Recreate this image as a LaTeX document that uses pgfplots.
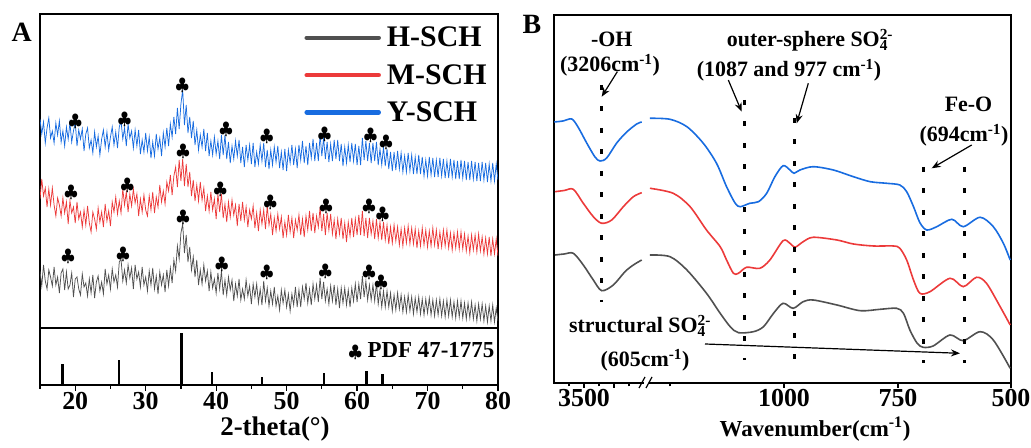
\documentclass[border=0pt]{standalone}
\usepackage{pgfplots}
\pgfplotsset{compat=1.18}
\usepackage{pgfplotstable}
\usepackage{fontspec}
\setmainfont{Liberation Serif}
\usetikzlibrary{arrows.meta}
\definecolor{hcol}{RGB}{80,80,80}
\definecolor{mcol}{RGB}{236,58,58}
\definecolor{ycol}{RGB}{24,108,224}
\newcommand{\fs}[1]{\fontsize{#1}{#1}\selectfont\bfseries}
\pgfplotstableread{
x H M Y
15.00 57 129 209
15.25 42 149 194
15.50 63 132 206
15.75 47 140 185
16.00 39 121 200
16.25 58 139 210
16.50 51 123 190
16.75 42 140 197
17.00 61 123 185
17.25 43 112 205
17.50 51 130 193
17.75 35 123 207
18.00 55 112 186
18.25 59 130 197
18.50 38 115 182
18.75 56 126 201
19.00 39 104 189
19.25 43 127 205
19.50 55 115 186
19.75 31 121 197
20.00 49 105 206
20.25 51 126 182
20.50 39 109 198
20.75 33 116 189
21.00 54 101 199
21.25 41 118 177
21.50 45 103 194
21.75 32 122 200
22.00 49 105 180
22.25 35 96 188
22.50 53 116 175
22.75 30 109 196
23.00 46 99 181
23.25 52 120 192
23.50 37 106 173
23.75 46 116 189
24.00 34 101 198
24.25 59 124 181
24.50 44 107 196
24.75 53 117 178
25.00 39 102 191
25.25 59 126 201
25.50 46 116 183
25.75 53 131 196
26.00 41 114 180
26.25 66 127 201
26.50 69 115 207
26.75 47 139 189
27.00 58 123 200
27.25 45 136 182
27.50 63 116 204
27.75 50 134 190
28.00 60 122 197
28.25 39 139 180
28.50 63 125 198
28.75 49 134 182
29.00 56 112 198
29.25 41 129 174
29.50 61 116 188
29.75 43 133 176
30.00 51 118 195
30.25 37 112 177
30.50 57 132 191
30.75 43 118 170
31.00 60 136 186
31.25 39 115 172
31.50 52 131 194
31.75 34 121 179
32.00 56 143 190
32.25 43 126 172
32.50 53 137 195
32.75 36 124 181
33.00 58 146 200
33.25 42 137 182
33.50 60 153 204
33.75 45 133 191
34.00 68 152 211
34.25 57 161 194
34.50 82 141 220
34.75 69 168 199
35.00 95 147 224
35.25 104 169 238
35.50 75 142 203
35.75 93 164 223
36.00 66 141 195
36.25 81 156 211
36.50 58 132 190
36.75 71 148 207
37.00 51 127 183
37.25 68 143 198
37.50 43 127 178
37.75 58 146 193
38.00 44 128 181
38.25 63 140 199
38.50 47 117 177
38.75 57 132 195
39.00 37 117 172
39.25 56 136 187
39.50 40 118 173
39.75 49 129 191
40.00 35 109 174
40.25 55 134 187
40.50 39 116 169
40.75 57 134 193
41.00 33 110 173
41.25 48 124 193
41.50 33 106 169
41.75 51 126 186
42.00 38 111 165
42.25 48 128 182
42.50 27 113 169
42.75 44 123 187
43.00 32 102 172
43.25 49 124 188
43.50 28 107 165
43.75 39 126 181
44.00 29 108 161
44.25 48 121 183
44.50 32 101 168
44.75 42 118 183
45.00 24 109 164
45.25 44 122 185
45.50 31 100 161
45.75 44 115 176
46.00 25 97 164
46.25 39 118 183
46.50 23 104 167
46.75 47 118 185
47.00 27 99 161
47.25 40 122 178
47.50 22 103 159
47.75 37 114 178
48.00 24 93 163
48.25 41 110 181
48.50 22 97 166
48.75 32 114 182
49.00 18 99 160
49.25 38 111 176
49.50 25 90 158
49.75 38 106 179
50.00 21 93 157
50.25 34 113 178
50.50 17 96 165
50.75 34 110 183
51.00 23 90 163
51.25 41 108 179
51.50 21 98 160
51.75 38 113 183
52.00 21 93 168
52.25 41 109 187
52.50 29 91 165
52.75 45 112 182
53.00 25 98 163
53.25 39 117 185
53.50 23 97 170
53.75 44 115 189
54.00 29 95 167
54.25 43 112 185
54.50 26 101 167
54.75 50 121 193
55.00 29 97 172
55.25 46 114 190
55.50 27 93 169
55.75 39 115 186
56.00 24 98 166
56.25 42 114 184
56.50 27 94 167
56.75 43 108 188
57.00 23 89 169
57.25 39 109 188
57.50 20 94 167
57.75 40 110 184
58.00 25 89 162
58.25 40 105 181
58.50 23 86 165
58.75 38 106 183
59.00 21 92 166
59.25 40 110 185
59.50 27 91 167
59.75 44 109 184
60.00 26 93 163
60.25 44 113 182
60.50 29 93 163
60.75 52 117 190
61.00 31 92 168
61.25 47 110 187
61.50 28 90 167
61.75 43 110 185
62.00 28 94 165
62.25 43 107 185
62.50 27 89 167
62.75 45 109 186
63.00 24 90 163
63.25 38 106 179
63.50 21 88 163
63.75 37 106 181
64.00 21 88 162
64.25 37 103 179
64.50 21 84 159
64.75 35 101 176
65.00 17 85 157
65.25 33 103 176
65.50 18 87 158
65.75 35 101 177
66.00 19 83 159
66.25 33 99 175
66.50 16 82 156
66.75 31 100 172
67.00 16 85 156
67.25 33 102 175
67.50 17 84 157
67.75 31 100 173
68.00 14 84 154
68.25 30 99 171
68.50 16 80 154
68.75 31 97 173
69.00 14 82 154
69.25 29 100 171
69.50 13 83 152
69.75 29 98 168
70.00 15 81 152
70.25 30 97 171
70.50 13 82 153
70.75 28 100 170
71.00 12 83 151
71.25 28 98 168
71.50 13 79 151
71.75 29 96 170
72.00 12 81 152
72.25 27 98 169
72.50 11 82 150
72.75 28 98 167
73.00 12 80 150
73.25 28 95 169
73.50 11 78 151
73.75 26 95 168
74.00 10 80 149
74.25 27 96 167
74.50 11 79 149
74.75 27 96 168
75.00 10 79 150
75.25 25 94 167
75.50 9 77 148
75.75 25 92 166
76.00 10 75 148
76.25 26 93 167
76.50 9 78 149
76.75 23 93 166
77.00 7 76 147
77.25 24 94 165
77.50 9 77 147
77.75 24 91 166
78.00 7 74 148
78.25 22 90 165
78.50 6 74 146
78.75 22 91 164
79.00 7 72 147
79.25 23 89 165
79.50 6 74 147
79.75 20 89 164
80.00 7 72 148
}\xrd
\begin{document}
\begin{tikzpicture}[x=1bp,y=1bp]
\useasboundingbox (0,0) rectangle (1031,448);
% ---------- Panel A, upper ----------
\begin{axis}[at={(40bp,120bp)}, anchor=south west, scale only axis,
  width=458bp, height=314bp, xmin=15, xmax=80, ymin=0, ymax=314,
  xtick=\empty, ytick=\empty, axis line style={line width=1.2bp},
  legend style={draw=none, fill=none, at={(0.577,0.965)}, anchor=north west,
    font=\fs{30}, inner sep=0pt, row sep=12bp,
    /tikz/every odd column/.append style={column sep=4bp}},
  legend cell align=left,
  legend image code/.code={\draw[#1, line width=4.5bp, line cap=round] (2bp,0bp) -- (74bp,0bp);}]
\addplot[hcol, line width=0.75bp] table[x=x,y=H]{\xrd};
\addplot[mcol, line width=0.75bp] table[x=x,y=M]{\xrd};
\addplot[ycol, line width=0.75bp] table[x=x,y=Y]{\xrd};
\legend{H-SCH,M-SCH,Y-SCH}
\addplot[only marks, mark=text, text mark={\fontsize{17}{17}\selectfont$\clubsuit$}, black, forget plot] coordinates {
(20.0,206) (27.0,208) (35.2,242) (41.4,198) (47.2,191) (55.4,193) (61.9,192) (64.1,185)
(19.4,135) (27.4,142) (35.3,176) (40.6,138) (47.7,125) (55.6,121) (61.7,121) (63.6,113)
(19.0,71) (26.8,73) (35.3,110) (40.8,63) (47.2,55) (55.5,56) (61.7,55) (63.4,45)};
\end{axis}
% ---------- Panel A, lower ----------
\begin{axis}[at={(40bp,63bp)}, anchor=south west, scale only axis,
  width=458bp, height=57bp, xmin=15, xmax=80, ymin=0, ymax=110,
  ytick=\empty, xtick={20,30,40,50,60,70,80}, xticklabels={20,30,40,50,60,70,80},
  minor xtick={15,25,35,45,55,65,75}, xtick pos=left, tick align=outside,
  major tick length=6bp, minor tick length=4bp,
  tick style={line width=1.2bp, black},
  tick label style={font=\fs{26}, inner sep=1bp},
  axis line style={line width=1.2bp}]
\addplot[ycomb, black, line width=2.6bp] coordinates {
(18.2,40) (26.2,48) (35.1,100) (39.4,25) (46.5,15) (55.3,23) (61.3,27) (63.6,21)};
\end{axis}
\node[anchor=base east, font=\fs{23}, inner sep=0.5bp] at (495,90) {{\fontsize{17}{17}\selectfont$\clubsuit$} PDF 47-1775};
\node[anchor=base, font=\fs{27}, inner sep=0.5bp] at (275,12) {2-theta(°)};
\node[font=\fs{28}] at (21.7,415.5) {A};
% ---------- Panel B ----------
\begin{axis}[at={(554bp,65bp)}, anchor=south west, scale only axis,
  width=457bp, height=368bp, xmin=0, xmax=457, ymin=0, ymax=368,
  x filter/.expression={x>2000 ? (4000-x)*0.06 : 230+(1000-x)*0.456},
  ytick=\empty, xtick={30,60,230,344,457}, xticklabels={3500,,1000,750,500},
  minor xtick={15,45,75,116}, xtick pos=left, tick align=outside,
  major tick length=5bp, minor tick length=3.5bp,
  tick style={line width=1.2bp, black},
  tick label style={font=\fs{26}, inner sep=1bp},
  axis line style={line width=1.2bp}, clip=false]
\addplot[ycol, line width=1.6bp, smooth] coordinates {(3995,261) (3850,262) (3705,264) (3600,256) (3455,240) (3317,226) (3233,222) (3122,225) (2955,240) (2788,251) (2622,259) (2538,261)};
\addplot[ycol, line width=1.6bp, smooth] coordinates {(1294,264.7) (1250,263.7) (1213,256.3) (1177,239.7) (1148,219.7) (1126,196.3) (1107,179.7) (1096,176.3) (1075,179.7) (1056,181.3) (1038,189.7) (1020,206.3) (1002,217.3) (987,213) (978,209.7) (965,213) (936,216.3) (892,213) (848,206.3) (811,201.3) (775,199.7) (746,198) (731,191.3) (716,176.3) (702,160.3) (687,153) (665,156.3) (632,163.7) (607,156.3) (570,165.7) (541,156.3) (519,139.7) (504,123)};
\addplot[mcol, line width=1.6bp, smooth] coordinates {(3983,191.3) (3830,192.5) (3678,193.7) (3512,179.7) (3345,166.3) (3205,159.7) (3038,163) (2845,176.3) (2678,186.3) (2538,190.3)};
\addplot[mcol, line width=1.6bp, smooth] coordinates {(1294,194.7) (1243,189.7) (1206,176.3) (1170,153) (1140,136.3) (1126,123) (1111,109.7) (1100,109.7) (1082,115.7) (1053,114.7) (1031,123) (1002,142.3) (987,139.7) (976,135.7) (958,141.3) (936,145.7) (884,143) (848,139) (804,137) (760,137) (746,134.7) (731,123) (716,103) (702,89.7) (680,91.3) (636,104.7) (607,96.3) (578,105.7) (556,99.7) (526,76.3) (504,58)};
\addplot[hcol, line width=1.6bp, smooth] coordinates {(3983,128) (3830,129) (3678,129.7) (3512,118) (3345,103) (3205,92.3) (3012,98) (2817,111.3) (2678,118) (2538,123)};
\addplot[hcol, line width=1.6bp, smooth] coordinates {(1294,128) (1250,126.3) (1213,113) (1170,89.7) (1140,69.7) (1118,56.3) (1100,50.3) (1067,51.3) (1045,56.3) (1023,69.7) (1002,79.7) (980,74.7) (958,81.3) (936,83) (884,78) (833,72.3) (789,73.7) (753,74.7) (738,69.7) (724,53) (708,39.7) (695,35.7) (673,37) (636,48) (607,42.3) (570,51.3) (541,43) (504,14.7)};
% marker lines
\addplot[black, line width=3bp, dash pattern=on 5bp off 16.5bp] coordinates {(3206,298) (3206,81)};
\addplot[black, line width=3bp, dash pattern=on 5bp off 16.5bp] coordinates {(1087,283) (1087,23)};
\addplot[black, line width=3bp, dash pattern=on 5bp off 16.5bp] coordinates {(977,265) (977,8)};
\addplot[black, line width=3bp, dash pattern=on 5bp off 16.5bp] coordinates {(694,216) (694,20)};
\addplot[black, line width=3bp, dash pattern=on 5bp off 16.5bp] coordinates {(605,216) (605,20)};
\end{axis}
% break mark
\fill[white] (643.5,62) rectangle (648.5,68);
\draw[line width=1.2bp] (639,60) -- (645,71);
\draw[line width=1.2bp] (646,60) -- (652,71);
% annotations
\node[font=\fs{28}] at (532,424) {B};
\begin{scope}[every node/.style={inner sep=0.5bp}]
\node[anchor=base, font=\fs{22}] at (611.7,401) {-OH};
\node[anchor=base, font=\fs{22}] at (610,376) {(3206cm\textsuperscript{-1})};
\node[anchor=base, font=\fs{22}] at (810,401) {outer-sphere SO\rlap{\textsubscript{4}}\textsuperscript{2-}};
\node[anchor=base, font=\fs{22}] at (789,371) {(1087 and 977 cm\textsuperscript{-1})};
\node[anchor=base, font=\fs{22}] at (968.5,336) {Fe-O};
\node[anchor=base, font=\fs{22}] at (964,306) {(694cm\textsuperscript{-1})};
\node[anchor=base, font=\fs{22}] at (640,115) {structural SO\rlap{\textsubscript{4}}\textsuperscript{2-}};
\node[anchor=base, font=\fs{22}] at (645,81) {(605cm\textsuperscript{-1})};
\node[anchor=base, font=\fs{23}] at (815,11) {Wavenumber(cm\textsuperscript{-1})};
\end{scope}
\draw[-{Stealth[length=9bp,width=7bp]}, line width=1.2bp] (617.3,376.3) -- (601.7,351.3);
\draw[-{Stealth[length=9bp,width=7bp]}, line width=1.2bp] (728.3,368) -- (741.7,336.3);
\draw[-{Stealth[length=9bp,width=7bp]}, line width=1.2bp] (808.3,364.7) -- (796.7,324.7);
\draw[-{Stealth[length=9bp,width=7bp]}, line width=1.2bp] (971.7,303) -- (931.7,279.7);
\draw[-{Stealth[length=9bp,width=7bp]}, line width=1.2bp] (705,104) -- (960,94.7);
\end{tikzpicture}
\end{document}
